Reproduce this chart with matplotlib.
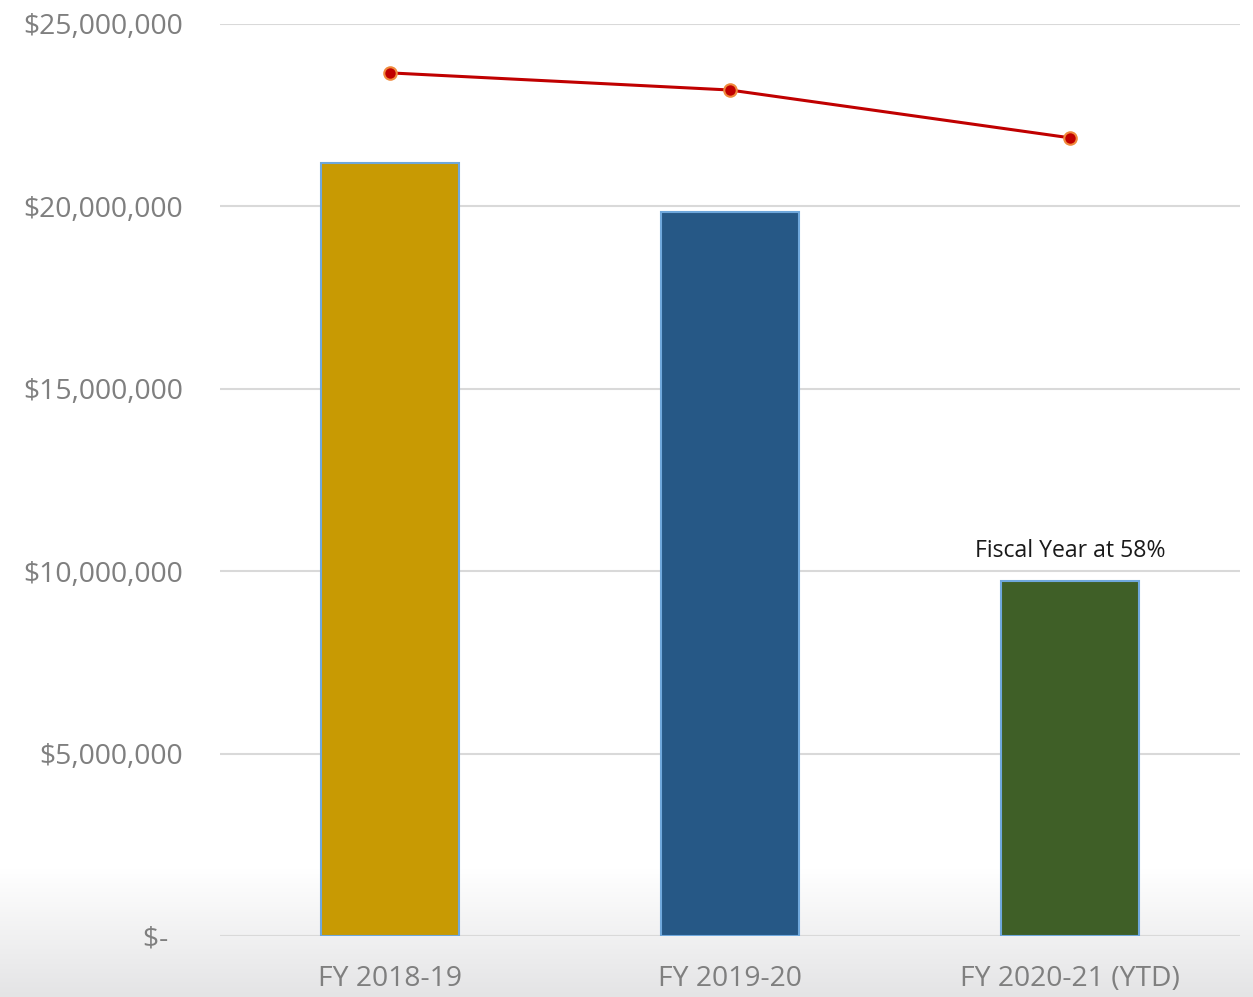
import matplotlib
matplotlib.use("Agg")
import matplotlib.pyplot as plt
import numpy as np
from matplotlib.ticker import FuncFormatter

categories = ["FY 2018-19", "FY 2019-20", "FY 2020-21 (YTD)"]
bar_values = [21190000, 19850000, 9730000]
line_values = [23660000, 23190000, 21880000]
bar_colors = ["#c89a03", "#265886", "#3f5f27"]
annotation = "Fiscal Year at 58%"

W, H = 1253, 997
fig = plt.figure(figsize=(W / 100, H / 100), dpi=100)
plt.rcParams['font.family'] = ['Open Sans', 'DejaVu Sans']

# bottom gradient background
bg = fig.add_axes([0, 0, 1, 1], zorder=-10)
bg.set_axis_off()
n = 400
grad = np.ones((n, 1, 3))
t = np.linspace(0, 1, n)  # 0 top, 1 bottom
start = 870 / H
for i, ti in enumerate(t):
    if ti > start:
        f = (ti - start) / (1 - start)
        v = 1 - f * (1 - 0.895)
        grad[i, 0] = [v, v, v + 0.005 * f]
grad = np.clip(grad, 0, 1)
bg.imshow(grad, aspect='auto', extent=[0, 1, 0, 1])
bg.set_xlim(0, 1)
bg.set_ylim(0, 1)

left, right = 220 / W, 1240 / W
bottom, top = (H - 936) / H, (H - 24) / H
ax = fig.add_axes([left, bottom, right - left, top - bottom])
ax.patch.set_alpha(0)

x = np.arange(len(categories))
ax.bar(x, bar_values, width=0.403, color=bar_colors, edgecolor="#6fa8dc",
       linewidth=1.5, zorder=3)
ax.plot(x, line_values, color="#c00000", linewidth=2.2, marker='o',
        markersize=9, markerfacecolor="#c00000", markeredgecolor="#f08a3c",
        markeredgewidth=1.5, zorder=4)

ax.text(x[2], bar_values[2] + 500000, annotation, ha='center', va='bottom',
        fontsize=16.6, color='#1a1a1a')

ax.set_xlim(-0.5, 2.5)
ax.set_ylim(0, 25000000)
ax.set_yticks(np.arange(0, 25000001, 5000000))

def fmt(v, pos):
    if v == 0:
        return "$-  "
    return "${:,.0f}".format(v)

ax.yaxis.set_major_formatter(FuncFormatter(fmt))
ax.set_xticks(x)
ax.set_xticklabels(categories)
ax.tick_params(axis='both', length=0, labelsize=20.3, colors='#7f7f7f')
ax.tick_params(axis='y', pad=26.5)
ax.tick_params(axis='x', pad=21)
ax.grid(axis='y', color='#d9d9d9', linewidth=1.5, zorder=0)
ax.set_axisbelow(True)
for s in ax.spines.values():
    s.set_visible(False)

fig.savefig("out.png", dpi=100)
